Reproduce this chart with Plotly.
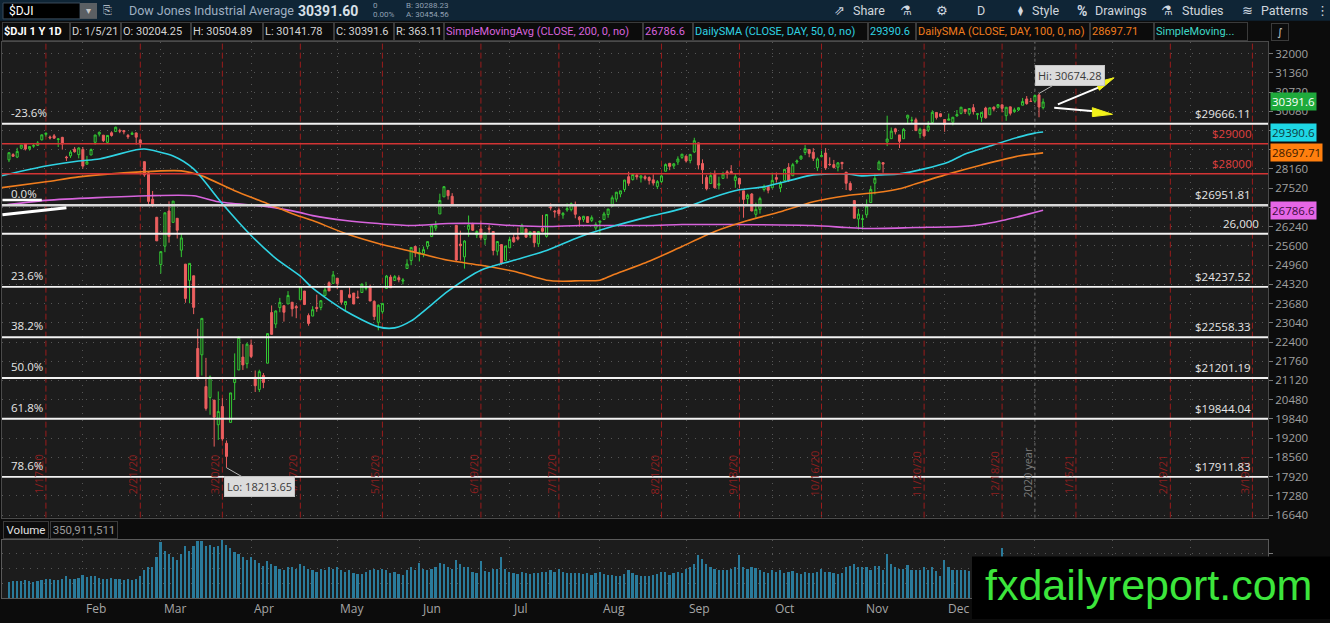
import plotly.graph_objects as go
import pandas as pd

# ---------------- DATA ----------------
opens = [
    28465,28639,28556,28852,29001,28832,28917,28948,29131,29313,29226,29264,29144,29214,28557,28597,28820,28640,28813,
    28319,28626,29049,29320,29286,29048,29366,29406,29431,29440,29279,29313,29361,29129,28404,28031,27154,26554,24978,
    25591,26762,26383,26519,25457,24992,24453,24605,22184,21974,20917,20553,20466,19646,20253,19029,19723,21050,21469,21898,21679,22301,
    21227,20820,21285,21694,23380,22999,23546,23609,23667,23724,23578,23808,24098,23279,23263,23553,23550,23950,24373,24352,24525,
    24118,23637,23974,24029,23895,24048,24180,24248,23751,23055,23409,24183,24561,24446,24541,24427,24847,25112,25581,25325,
    25342,25584,25910,26191,26663,27232,27447,27251,26283,25659,25235,26152,26323,25962,26163,25814,26191,26079,25423,25643,25116,25536,
    25879,25899,26032,26159,25956,26080,25669,26185,25917,26897,26761,26796,26629,26796,26807,26974,26556,26484,26573,26450,26192,26387,
    26477,26644,26920,27156,27327,27478,27904,27808,27950,27865,27902,27877,27799,27580,27739,28085,28348,28262,28392,28547,28585,
    28440,28725,29029,28341,27875,27675,28002,27620,27847,28065,28076,27781,27848,27432,27170,27328,26650,26816,27478,27582,27535,
    27875,27536,27775,28214,27936,28393,28492,28709,28805,28717,28202,28570,28692,28316,28306,28220,28382,28054,27678,27108,26494,26479,
    26636,27043,27686,28136,28371,29059,29170,29497,29295,29168,29854,29779,29798,29340,29477,29452,29710,30044,29999,29807,
    29782,29718,29926,30012,30144,29998,30202,29968,29880,30189,29965,30219,30217,30296,29934,30229,30069,30128,30283,30492,30415,30417,
    30627,30204,
]
highs = [
    28708,28686,28866,28958,29010,28909,29007,29089,29298,29374,29273,29324,29186,29229,28599,28784,28893,28883,28892,
    28597,28841,29298,29408,29287,29277,29415,29568,29501,29440,29327,29406,29371,29147,28404,28094,27428,26554,25410,
    26706,27084,27091,26519,25994,24992,25020,24605,22837,23186,21871,21285,20466,20754,20531,19123,20706,22020,22596,22328,22378,22480,
    21451,21477,21366,22680,23617,23449,23868,23609,24094,23724,23640,24265,24098,23351,23593,23976,23795,24264,24420,24764,24525,
    24118,23766,24222,24029,24111,24340,24403,24311,23788,23651,23702,24633,24636,24629,24620,24528,25155,25550,25600,25540,
    25580,25752,26328,26432,27338,27581,27447,27355,26283,26107,25788,26611,26370,26118,26443,26040,26288,26079,25747,25643,25596,25905,
    25994,26205,26338,26187,26076,26080,26080,26632,26660,27014,26791,26853,26730,27015,27045,27076,26595,26601,26573,26614,26385,26430,
    26735,26829,27280,27397,27433,27800,28068,28006,27999,27950,27958,27918,27984,27793,27963,28347,28363,28359,28581,28660,28616,
    28659,29199,29035,28479,27955,28047,28112,27905,28068,28120,28288,27992,27871,27432,27336,27357,27039,27237,27640,27583,28039,
    28042,27760,28162,28354,28363,28475,28613,28957,28805,28855,28543,28773,28856,28549,28461,28393,28382,28054,27749,27108,26833,26640,
    27147,27602,28024,28444,28391,29934,29541,29530,29295,29523,29964,29899,29868,29538,29498,29749,30117,30047,30006,29811,
    30006,29890,30124,30218,30156,30190,30320,30018,30047,30232,30200,30241,30320,30296,30217,30229,30199,30210,30525,30588,30525,30637,
    30674,30505,
]
lows = [
    28389,28565,28522,28816,28777,28774,28864,28929,29108,29237,29144,29169,28891,28805,28428,28528,28704,28513,28169,
    28319,28626,28971,29242,29056,29004,29237,29406,29354,29314,29162,29293,28971,28874,27900,26997,26888,25766,24681,
    25391,25707,26383,25846,25226,23707,23690,23328,21154,21285,20117,19978,18918,19140,19114,18214,19721,20468,21469,21470,21523,21862,
    20735,20734,20863,21694,22654,22863,23391,23079,23667,23248,23192,23808,23629,22942,23263,23405,23458,23950,24094,24352,24157,
    23643,23435,23857,23663,23847,24048,24118,23765,23132,22790,23342,24183,24207,24446,24388,24317,24847,24956,25225,25082,
    25223,25489,25910,26103,26663,27232,27141,26963,25082,25111,24844,25903,26096,25860,25785,25638,26010,25285,25282,24972,25116,25536,
    25704,25781,26032,25874,25863,25555,25565,26048,25876,26781,26539,26600,26504,26737,26748,26519,26237,26399,26367,26393,26112,25965,
    26477,26537,26920,27065,27220,27398,27598,27774,27805,27709,27780,27642,27608,27493,27697,28085,28120,28167,28296,28495,28373,
    28349,28698,28146,27664,27448,27675,27502,27479,27847,27841,28030,27534,27523,26538,26979,26750,26537,26673,27410,27350,27535,
    27708,27388,27775,27727,27936,28325,28469,28623,28551,28428,28097,28570,28130,28255,28176,28080,28145,27460,27432,26520,26144,26143,
    26535,27043,27315,28136,28037,28922,29170,29311,28856,29168,29685,29675,29437,29184,29238,29393,29710,29807,29883,29398,
    29782,29614,29903,29979,29990,29937,29973,29802,29729,29836,29965,30080,30177,30052,29766,29944,30030,30089,30283,30300,30393,30375,
    29882,30142,
]
closes = [
    28703,28584,28745,28957,28824,28907,28940,29030,29298,29348,29196,29186,29160,28990,28536,28723,28734,28859,28256,
    28400,28808,29291,29380,29103,29277,29276,29551,29423,29398,29232,29348,29220,28992,27961,27081,26958,25767,25409,
    26703,25917,27091,26121,25865,23851,25018,23553,21201,23186,20189,21237,19899,20087,19174,18592,20705,21201,22552,21637,22327,21917,
    20944,21413,21053,22680,22654,23434,23719,23391,23950,23504,23538,24242,23650,23019,23476,23515,23775,24134,24102,24634,24346,
    23724,23750,23883,23665,23876,24331,24222,23765,23248,23625,23685,24597,24207,24576,24474,24465,24995,25548,25401,25383,
    25475,25743,26270,26282,27111,27572,27272,26990,25128,25606,25763,26290,26120,26080,25871,26025,26156,25446,25746,25016,25596,25813,
    25735,25827,26287,25890,26067,25706,26075,26086,26643,26870,26735,26672,26681,26840,27006,26652,26470,26585,26379,26540,26314,26428,
    26664,26828,27202,27387,27433,27791,27687,27977,27897,27931,27845,27778,27693,27740,27930,28308,28248,28332,28492,28654,28430,
    28646,29101,28293,28133,27501,27940,27535,27666,27993,27996,28032,27902,27657,27148,27288,26763,26815,27174,27584,27453,27782,
    27817,27683,28149,27773,28303,28426,28587,28838,28680,28514,28494,28606,28195,28309,28211,28364,28336,27685,27463,26520,26659,26502,
    26925,27480,27848,28390,28323,29158,29421,29398,29080,29480,29950,29783,29438,29483,29263,29591,30046,29872,29910,29639,
    29824,29884,29970,30218,30070,30174,30069,29999,30046,29862,30199,30155,30303,30179,30216,30016,30130,30200,30404,30336,30410,30606,
    30224,30391.6,
]
volumes_m = [
    220,230,240,235,250,230,225,235,245,270,260,250,245,265,300,270,265,275,320,
    290,300,310,280,270,265,280,270,260,250,265,255,270,300,380,420,430,560,760,
    640,600,560,520,600,700,640,700,780,780,700,720,690,700,800,720,680,620,600,560,520,560,
    520,480,440,500,470,440,400,380,420,420,400,460,440,400,380,360,400,380,420,400,420,
    380,360,380,340,330,330,360,380,400,380,400,380,340,360,330,320,380,420,380,480,
    400,380,400,420,480,460,420,400,520,470,420,420,360,350,500,370,360,400,400,560,400,360,
    340,330,360,350,330,350,340,360,360,380,360,400,360,350,350,340,340,330,340,320,340,360,
    330,320,320,310,300,330,380,340,320,300,300,310,320,330,360,360,320,340,360,340,400,
    420,470,580,530,470,420,400,390,380,380,400,420,590,420,400,420,410,380,360,350,390,
    360,380,340,360,370,350,330,360,350,340,360,400,360,360,340,330,350,420,440,470,430,420,
    430,380,440,440,380,600,470,420,400,400,450,380,380,380,420,380,420,370,300,520,
    420,380,390,380,380,370,400,380,360,400,370,400,420,680,400,380,350,260,300,320,330,310,
    400,351,
]

sma50_dates = ['2020-01-02','2020-01-17','2020-01-30','2020-02-06','2020-02-20','2020-02-24','2020-03-04','2020-03-11',
               '2020-03-20','2020-03-31','2020-04-08','2020-04-17','2020-04-22','2020-05-04','2020-05-14','2020-05-20',
               '2020-05-27','2020-06-09','2020-06-19','2020-07-01','2020-07-14','2020-07-24','2020-08-05','2020-08-18',
               '2020-08-28','2020-09-10','2020-09-18','2020-09-28','2020-10-06','2020-10-14','2020-10-26','2020-10-30',
               '2020-11-05','2020-11-12','2020-11-20','2020-12-01','2020-12-07','2020-12-15','2020-12-24','2020-12-31','2021-01-05']
sma50_vals = [27931,28262,28427,28493,28800,28824,28593,28163,27005,25946,25186,24590,24193,23432,22903,22870,
              23102,24094,24789,25119,25450,25900,26244,26575,26840,27237,27468,27567,27766,27964,27997,27931,
              27964,27997,28163,28394,28659,28924,29221,29354,29390.6]

sma100_dates = ['2020-01-02','2020-01-17','2020-01-30','2020-02-21','2020-03-06','2020-03-13','2020-03-25','2020-04-06',
                '2020-04-17','2020-04-22','2020-05-04','2020-05-14','2020-05-27','2020-06-09','2020-06-19','2020-07-01',
                '2020-07-14','2020-07-20','2020-07-24','2020-07-31','2020-08-05','2020-08-18','2020-08-28','2020-09-10',
                '2020-09-22','2020-10-02','2020-10-14','2020-10-26','2020-11-06','2020-11-12','2020-11-18','2020-12-01',
                '2020-12-11','2020-12-24','2021-01-05']
sma100_vals = [27534,27733,27898,28064,28097,27931,27435,27005,26575,26443,26013,25682,25417,25119,24954,24755,
               24458,24425,24440,24458,24623,25086,25582,26078,26443,26740,27071,27270,27402,27501,27667,27997,
               28295,28593,28697.71]

sma200_dates = ['2020-01-02','2020-01-17','2020-02-25','2020-03-11','2020-03-19','2020-04-06','2020-04-17','2020-04-22',
                '2020-05-04','2020-05-14','2020-05-27','2020-06-09','2020-06-19','2020-07-01','2020-07-14','2020-07-24',
                '2020-08-18','2020-08-28','2020-09-16','2020-10-14','2020-10-26','2020-11-02','2020-11-18','2020-12-04',
                '2020-12-11','2020-12-18','2020-12-28','2021-01-05']
sma200_vals = [26939,27114,27270,27270,27071,26906,26707,26608,26443,26343,26277,26343,26343,26277,26244,26277,
               26277,26310,26310,26277,26211,26178,26211,26244,26310,26443,26608,26786.6]

fib_levels = [29666.11, 26951.81, 24237.52, 22558.33, 21201.19, 19844.04, 17911.83]
fib_pcts = ['-23.6%', '0.0%', '23.6%', '38.2%', '50.0%', '61.8%', '78.6%']
fib_texts = ['$29666.11', '$26951.81', '$24237.52', '$22558.33', '$21201.19', '$19844.04', '$17911.83']
red_levels = [29000, 28000]
red_texts = ['$29000', '$28000']
round_level = 26000
round_text = '26,000'

expiry_dates = ['2020-01-17','2020-02-21','2020-03-20','2020-04-17','2020-05-15','2020-06-19','2020-07-17',
                '2020-08-21','2020-09-18','2020-10-16','2020-11-20','2020-12-18','2021-01-15','2021-02-19','2021-03-19']
month_labels = ['Feb','Mar','Apr','May','Jun','Jul','Aug','Sep','Oct','Nov','Dec']
month_starts = ['2020-02-03','2020-03-02','2020-04-01','2020-05-01','2020-06-01','2020-07-01','2020-08-03',
                '2020-09-01','2020-10-01','2020-11-02','2020-12-01','2021-01-04','2021-02-01','2021-03-01']
price_ticks = [16640,17280,17920,18560,19200,19840,20480,21120,21760,22400,23040,23680,24320,24960,25600,
               26240,26880,27520,28160,28800,29440,30080,30720,31360,32000]
price_tick_text = ['16640','17280','17920','18560','19200','19840','20480','21120','21760','22400','23040','23680',
                   '24320','24960','25600','26240','','27520','28160','','','30080','30720','31360','32000']
header_texts = ['<b>$DJI 1 Y 1D</b>', 'D: 1/5/21', 'O: 30204.25', 'H: 30504.89', 'L: 30141.78', 'C: 30391.6',
                'R: 363.11', 'SimpleMovingAvg (CLOSE, 200, 0, no)', '26786.6', 'DailySMA (CLOSE, DAY, 50, 0, no)',
                '29390.6', 'DailySMA (CLOSE, DAY, 100, 0, no)', '28697.71', 'SimpleMoving...']
tag_texts = ['30391.6', '29390.6', '28697.71', '26786.6']
hi_text = 'Hi: 30674.28'
lo_text = 'Lo: 18213.65'
volume_text = '350,911,511'

# ---------------- calendar / positions ----------------
holidays = ['2020-01-20','2020-02-17','2020-04-10','2020-05-25','2020-07-03','2020-09-07','2020-11-26',
            '2020-12-25','2021-01-01','2021-01-18','2021-02-15']
cal = pd.bdate_range('2020-01-02', '2021-03-31', freq='C', holidays=holidays)
cal_idx = {d.strftime('%Y-%m-%d'): i - 2 for i, d in enumerate(cal)}
def pos(s):
    return cal_idx[s]

n = len(closes)
xs = list(range(n))

W, H = 1330, 623
def px(v): return v / W
def py(v): return 1 - v / H

X0, X1 = -1.7, 306.8
PLOT_BG = '#1c1c1c'
PAPER_BG = '#0c0c0c'
UP = '#33c933'
DN = '#ec5f5f'
C50, C100, C200 = '#2fd3e3', '#f07d1e', '#d763dc'
UI_FONT = 'Roboto'

fig = go.Figure()
fig.add_trace(go.Candlestick(
    x=xs, open=opens, high=highs, low=lows, close=closes,
    increasing=dict(line=dict(color=UP, width=1), fillcolor=PLOT_BG),
    decreasing=dict(line=dict(color=DN, width=1), fillcolor=DN),
    whiskerwidth=0, hoverinfo='skip', xaxis='x', yaxis='y'))
for d, v, c in [(sma200_dates, sma200_vals, C200), (sma100_dates, sma100_vals, C100), (sma50_dates, sma50_vals, C50)]:
    fig.add_trace(go.Scatter(x=[pos(s) for s in d], y=v, mode='lines',
                             line=dict(color=c, width=1.6, shape='spline', smoothing=0.7),
                             hoverinfo='skip', xaxis='x', yaxis='y'))
fig.add_trace(go.Bar(x=xs, y=volumes_m, marker=dict(color='#2a7b9b', line=dict(width=0)),
                     width=0.42, xaxis='x2', yaxis='y2', hoverinfo='skip'))

grid_x = [pos(s) - 1 for s in month_starts]
shapes = []
ann = []

# toolbar
shapes.append(dict(type='rect', xref='paper', yref='paper', x0=0, x1=1, y0=py(21), y1=1,
                   fillcolor='#0f2536', line=dict(width=0), layer='below'))
shapes.append(dict(type='rect', xref='paper', yref='paper', x0=px(3), x1=px(80), y0=py(19), y1=py(3),
                   fillcolor='#000000', line=dict(color='#3a4a5a', width=1)))
shapes.append(dict(type='rect', xref='paper', yref='paper', x0=px(80), x1=px(97), y0=py(19), y1=py(3),
                   fillcolor='#5b5f63', line=dict(width=0)))

def t(x, y, text, color='#cfd6dd', size=12, anchor='left', family=UI_FONT, **kw):
    ann.append(dict(xref='paper', yref='paper', x=px(x), y=py(y), text=text, showarrow=False,
                    xanchor=anchor, yanchor='middle', font=dict(color=color, size=size, family=family), **kw))

t(7, 11, '$DJI', '#ffffff', 12)
t(88.5, 11, '▾', '#c8c8c8', 10, 'center', 'DejaVu Sans')
t(107, 11, '⎘', '#aab4be', 11, 'center', 'DejaVu Sans')
t(127, 11, 'Dow Jones Industrial Average', '#9fb0c2', 12.5)
t(296, 11, '<b>30391.60</b>', '#d8e0e8', 14)
t(371, 6, '0', '#8fa0b2', 8)
t(371, 15, '0.00%', '#8fa0b2', 8)
t(404, 6, 'B: 30288.23', '#8fa0b2', 8)
t(404, 15, 'A: 30454.56', '#8fa0b2', 8)
t(839, 11, '⇗', '#d0d8e0', 13, 'center', 'DejaVu Sans')
t(851, 11, 'Share', '#cfd6dd', 12.5)
t(906, 11, '⚗', '#d0d8e0', 13, 'center', 'DejaVu Sans')
t(942, 11, '⚙', '#d0d8e0', 13, 'center', 'DejaVu Sans')
t(981, 11, 'D', '#cfd6dd', 12.5, 'center')
t(1020, 11, '⧫', '#d0d8e0', 10, 'center', 'DejaVu Sans')
t(1030, 11, 'Style', '#cfd6dd', 12.5)
t(1082, 11, '<b>%</b>', '#d0d8e0', 14, 'center')
t(1093, 11, 'Drawings', '#cfd6dd', 12.5)
t(1167, 11, '⚗', '#d0d8e0', 13, 'center', 'DejaVu Sans')
t(1180, 11, 'Studies', '#cfd6dd', 12.5)
t(1247, 11, '≋', '#d0d8e0', 13, 'center', 'DejaVu Sans')
t(1259, 11, 'Patterns', '#cfd6dd', 12.5)
t(1322, 11, '⋮', '#cfd6dd', 13, 'center', 'DejaVu Sans')

# header row cells
cell_bounds = [2, 70, 121, 191, 263, 334, 394, 444, 643, 693, 868, 916, 1090, 1154, 1248]
cell_colors = ['#ffffff'] + ['#d4d4d4'] * 6 + [C200, C200, C50, C50, C100, C100, '#3fd7c7']
for i, txt in enumerate(header_texts):
    x0, x1 = cell_bounds[i], cell_bounds[i + 1]
    ann.append(dict(xref='paper', yref='paper', x=px(x0), y=py(32), text=txt, showarrow=False,
                    xanchor='left', yanchor='middle', align='left', width=x1 - x0 - 4, height=15,
                    bordercolor='#3b3b3b', borderwidth=1, borderpad=1,
                    font=dict(color=cell_colors[i], size=11, family=UI_FONT)))
ann.append(dict(xref='paper', yref='paper', x=px(1271), y=py(32), text='∫', showarrow=False,
                xanchor='left', yanchor='middle', width=14, height=14, bordercolor='#3b3b3b', borderwidth=1,
                font=dict(color='#cccccc', size=11, family='DejaVu Sans')))

# volume header
ann.append(dict(xref='paper', yref='paper', x=px(3), y=py(533), text='Volume', showarrow=False,
                xanchor='left', yanchor='middle', width=42, height=14, bordercolor='#3b3b3b', borderwidth=1,
                borderpad=1, font=dict(color='#e0e0e0', size=11.5, family=UI_FONT)))
ann.append(dict(xref='paper', yref='paper', x=px(50), y=py(533), text=volume_text, showarrow=False,
                xanchor='left', yanchor='middle', width=64, height=14, bordercolor='#3b3b3b', borderwidth=1,
                borderpad=1, font=dict(color='#9a9a9a', size=11.5, family=UI_FONT)))

# expiry lines + labels
for s in expiry_dates:
    xi = pos(s)
    d = pd.Timestamp(s)
    shapes.append(dict(type='line', xref='x', yref='y domain', x0=xi, x1=xi, y0=0, y1=1,
                       line=dict(color='#9a1c1c', width=1, dash='6px,3px'), layer='below'))
    ann.append(dict(xref='x', yref='paper', x=xi, y=py(477), text=f'{d.month}/{d.day}/{d.year % 100}',
                    showarrow=False, textangle=-90, xanchor='center', yanchor='middle', xshift=-7,
                    font=dict(color='#8c1f1f', size=11, family='Open Sans')))
# year separator
yr = pos('2020-12-31')
shapes.append(dict(type='line', xref='x', yref='y domain', x0=yr, x1=yr, y0=0, y1=1,
                   line=dict(color='#707070', width=1, dash='3px,3px'), layer='below'))
ann.append(dict(xref='x', yref='paper', x=yr, y=py(475), text='2020 year', showarrow=False, textangle=-90,
                xanchor='center', yanchor='middle', xshift=-7, font=dict(color='#7a7a7a', size=11, family='Open Sans')))

# horizontal levels
for lv, pct, txt in zip(fib_levels, fib_pcts, fib_texts):
    wdt = 2.6 if pct == '0.0%' else 1.8
    col = '#d8d8d8' if pct == '0.0%' else '#f2f2f2'
    shapes.append(dict(type='line', xref='x domain', yref='y', x0=0, x1=1, y0=lv, y1=lv,
                       line=dict(color=col, width=wdt)))
    ann.append(dict(xref='paper', yref='y', x=px(9), y=lv, text=pct, showarrow=False, xanchor='left',
                    yanchor='bottom', yshift=2, font=dict(color='#e6e6e6', size=11.5, family='Open Sans')))
    ann.append(dict(xref='paper', yref='y', x=px(1253), y=lv, text=txt, showarrow=False, xanchor='right',
                    yanchor='bottom', yshift=1, font=dict(color='#e6e6e6', size=11.5, family='Open Sans')))
for lv, txt in zip(red_levels, red_texts):
    shapes.append(dict(type='line', xref='x domain', yref='y', x0=0, x1=1, y0=lv, y1=lv,
                       line=dict(color='#d33434', width=1.4)))
    ann.append(dict(xref='paper', yref='y', x=px(1253), y=lv, text=txt, showarrow=False, xanchor='right',
                    yanchor='bottom', yshift=1, font=dict(color='#e04040', size=11.5, family='Open Sans')))
shapes.append(dict(type='line', xref='x domain', yref='y', x0=0, x1=1, y0=round_level, y1=round_level,
                   line=dict(color='#f2f2f2', width=2)))
ann.append(dict(xref='paper', yref='y', x=px(1261), y=round_level, text=round_text, showarrow=False,
                xanchor='right', yanchor='bottom', yshift=1, font=dict(color='#e6e6e6', size=11.5, family='Open Sans')))

# hand drawings (white strokes at left, arrows at right)
shapes.append(dict(type='line', xref='x', yref='y', x0=-1.6, x1=8.0, y0=27130, y1=27130,
                   line=dict(color='#ffffff', width=2.5)))
shapes.append(dict(type='line', xref='x', yref='y', x0=-1.6, x1=14.0, y0=26640, y1=26870,
                   line=dict(color='#ffffff', width=3)))
shapes.append(dict(type='line', xref='x', yref='y', x0=255.6, x1=266.0, y0=30311, y1=30900,
                   line=dict(color='#ffffff', width=2)))
shapes.append(dict(type='path', xref='x', yref='y', path='M 264.9,31050 L 269.3,31195 L 265.7,30785 Z',
                   fillcolor='#f2f21a', line=dict(color='#f2f21a', width=1)))
shapes.append(dict(type='line', xref='x', yref='y', x0=254.7, x1=264.4, y0=30202, y1=30079,
                   line=dict(color='#ffffff', width=2)))
shapes.append(dict(type='path', xref='x', yref='y', path='M 264.0,30202 L 268.9,29980 L 264.0,29904 Z',
                   fillcolor='#f2f21a', line=dict(color='#f2f21a', width=1)))

# Hi / Lo bubbles
hi_i = max(range(n), key=lambda i: highs[i])
lo_i = min(range(n), key=lambda i: lows[i])
ann.append(dict(xref='x', yref='y', x=hi_i, y=highs[hi_i], text=hi_text, showarrow=True, arrowhead=0,
                arrowcolor='#b8b8b8', arrowwidth=1, ax=31, ay=-18, bgcolor='#dcdcdc', bordercolor='#c4c4c4',
                borderpad=2, font=dict(color='#3a3a3a', size=11, family='Open Sans')))
ann.append(dict(xref='x', yref='y', x=lo_i, y=lows[lo_i], text=lo_text, showarrow=True, arrowhead=0,
                arrowcolor='#b8b8b8', arrowwidth=1, ax=33, ay=19, bgcolor='#dcdcdc', bordercolor='#c4c4c4',
                borderpad=2, font=dict(color='#3a3a3a', size=11, family='Open Sans')))

# right-axis value tags
for val, txt, bg, fg in [(closes[-1], tag_texts[0], '#1faa3c', '#ffffff'), (sma50_vals[-1], tag_texts[1], '#1ed6e4', '#0d3b40'),
                         (sma100_vals[-1], tag_texts[2], '#ff7f0e', '#3b1a00'), (sma200_vals[-1], tag_texts[3], '#e666e6', '#3c0b3c')]:
    ann.append(dict(xref='paper', yref='y', x=px(1270), y=val, text=txt,
                    showarrow=False, xanchor='left', yanchor='middle', bgcolor=bg, borderpad=1,
                    font=dict(color=fg, size=11.5, family='Open Sans')))

# month labels
for lab, s in zip(month_labels, month_starts):
    ann.append(dict(xref='x', yref='paper', x=pos(s) - 1, y=py(612), text=lab, showarrow=False,
                    xanchor='left', yanchor='middle', xshift=1, font=dict(color='#a6a6a6', size=12, family='Open Sans')))

# watermark
shapes.append(dict(type='rect', xref='paper', yref='paper', x0=px(972), x1=1, y0=0, y1=py(560),
                   fillcolor='#000000', line=dict(width=0), layer='above'))
ann.append(dict(xref='paper', yref='paper', x=px(1148), y=py(589), text='fxdailyreport.com', showarrow=False,
                xanchor='center', yanchor='middle',
                font=dict(color='#3ce63c', size=43, family='Liberation Sans, Arial')))

grid_common = dict(showgrid=True, gridcolor='#565656', griddash='1px,6px', gridwidth=1, zeroline=False)
fig.update_layout(
    width=W, height=H, margin=dict(l=0, r=0, t=0, b=0),
    paper_bgcolor=PAPER_BG, plot_bgcolor=PLOT_BG, showlegend=False, bargap=0,
    xaxis=dict(domain=[px(2), px(1268)], range=[X0, X1], anchor='y', tickvals=grid_x, showticklabels=False,
               ticks='', showline=True, linecolor='#4a4a4a', mirror=True, rangeslider=dict(visible=False), **grid_common),
    yaxis=dict(domain=[py(521), py(42)], range=[16552, 32397], anchor='x', side='right', tickvals=price_ticks,
               ticktext=price_tick_text, ticks='outside', ticklen=4, tickcolor='#777777', showline=True,
               linecolor='#4a4a4a', mirror=True,
               tickfont=dict(color='#a0a0a0', size=11.5, family='Open Sans'), **grid_common),
    xaxis2=dict(domain=[px(2), px(1268)], range=[X0, X1], anchor='y2', matches='x', tickvals=grid_x,
                showticklabels=False, ticks='', showline=True, linecolor='#5a5a5a', mirror=True, **grid_common),
    yaxis2=dict(domain=[py(602), py(543)], range=[0, 787], anchor='x2', side='right', tickvals=[200, 400, 600],
                showticklabels=False, ticks='outside', ticklen=4, tickcolor='#777777', showline=True,
                linecolor='#5a5a5a', mirror=True, **grid_common),
    shapes=shapes, annotations=ann,
)
fig.write_html('out.html', config={'displayModeBar': False})

# remove the browser's default page margin so the figure fills the window exactly
with open('out.html', 'r', encoding='utf-8') as f:
    html = f.read()
html = html.replace('<body>', '<body style="margin:0;padding:0;overflow:hidden;background:#0c0c0c">', 1)
with open('out.html', 'w', encoding='utf-8') as f:
    f.write(html)
